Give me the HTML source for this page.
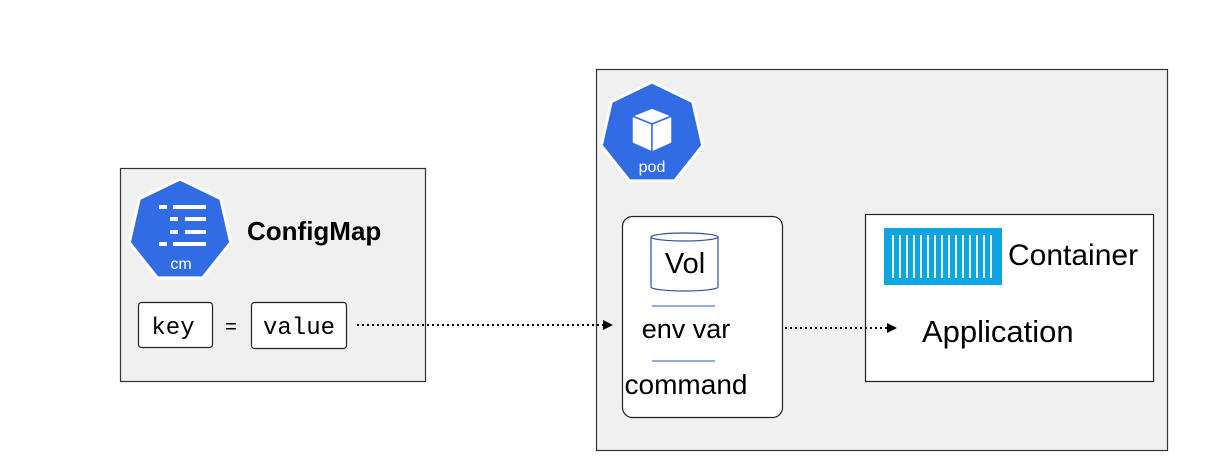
<!DOCTYPE html>
<html><head><meta charset="utf-8"><style>
html,body{margin:0;padding:0;background:#fff;}
svg{display:block;}
text{font-family:"Liberation Sans",sans-serif;}
</style></head><body>
<svg width="1229" height="475" viewBox="0 0 1229 475" xmlns="http://www.w3.org/2000/svg">
<!-- ConfigMap box -->
<rect x="120.5" y="168.5" width="305" height="213" fill="#f0f0f0" stroke="#333" stroke-width="1.2"/>
<polygon points="180,179 220.7,198.6 230.7,242.6 202.6,277.9 157.4,277.9 129.3,242.6 139.3,198.6" fill="#326ce5" stroke="#fff" stroke-width="3" stroke-linejoin="round"/>
<g fill="#fff">
<rect x="159" y="205" width="8" height="4"/><rect x="173" y="205" width="33" height="4"/>
<rect x="170" y="217" width="8" height="4"/><rect x="185" y="217" width="21" height="4"/>
<rect x="170" y="230" width="8" height="4"/><rect x="185" y="230" width="21" height="4"/>
<rect x="159" y="242" width="8" height="4"/><rect x="173" y="242" width="33" height="4"/>
</g>
<text x="181" y="269" font-size="16" fill="#fff" text-anchor="middle">cm</text>
<text x="247" y="240" font-size="26" font-weight="bold" fill="#000">ConfigMap</text>
<rect x="138.5" y="302.5" width="74" height="45" rx="3" fill="#fff" stroke="#222" stroke-width="1.2"/>
<text x="173" y="334" font-size="24" text-anchor="middle" style="font-family:'Liberation Mono',monospace">key</text>
<text x="231" y="333" font-size="20" text-anchor="middle">=</text>
<rect x="251.5" y="302.5" width="95" height="46" rx="3" fill="#fff" stroke="#222" stroke-width="1.2"/>
<text x="299" y="334" font-size="24" text-anchor="middle" style="font-family:'Liberation Mono',monospace">value</text>
<!-- Pod box -->
<rect x="596.5" y="69.5" width="571" height="381" fill="#f0f0f0" stroke="#333" stroke-width="1.2"/>
<polygon points="652,82 692.7,101.6 702.7,145.6 674.6,180.9 629.4,180.9 601.3,145.6 611.3,101.6" fill="#326ce5" stroke="#fff" stroke-width="3" stroke-linejoin="round"/>
<g fill="#fff" stroke="#326ce5" stroke-width="1.5" stroke-linejoin="round">
<polygon points="652,108 672,116 652,124 632,116"/>
<polygon points="632,116 652,124 652,152 632,143"/>
<polygon points="672,116 652,124 652,152 672,143"/>
</g>
<text x="652" y="172" font-size="16" fill="#fff" text-anchor="middle">pod</text>
<!-- arrow 1 -->
<line x1="357" y1="325" x2="604" y2="325" stroke="#000" stroke-width="2" stroke-dasharray="2,3"/>
<path d="M603,320 L613,325 L603,330 z" fill="#000"/>
<!-- inner box -->
<rect x="622.5" y="216.5" width="160" height="201" rx="10" fill="#fff" stroke="#222" stroke-width="1.2"/>
<path d="M651,237 L651,287 A33.5,4 0 0 0 718,287 L718,237" fill="#fff" stroke="#2f4f9f" stroke-width="1.2"/>
<ellipse cx="684.5" cy="237" rx="33.5" ry="4" fill="#fff" stroke="#2f4f9f" stroke-width="1.2"/>
<text x="685" y="273" font-size="29" text-anchor="middle">Vol</text>
<line x1="652" y1="306" x2="715" y2="306" stroke="#4a7bd0" stroke-width="1.2"/>
<line x1="652" y1="361" x2="715" y2="361" stroke="#4a7bd0" stroke-width="1.2"/>
<text x="686" y="338" font-size="27" text-anchor="middle">env var</text>
<text x="686" y="394" font-size="28" text-anchor="middle">command</text>
<!-- container box -->
<rect x="865.5" y="214.5" width="288" height="167" fill="#fff" stroke="#222" stroke-width="1.2"/>
<!-- arrow 2 -->
<line x1="785" y1="328" x2="888" y2="328" stroke="#000" stroke-width="2" stroke-dasharray="2,3"/>
<path d="M887,323 L897,328 L887,333 z" fill="#000"/>
<rect x="884" y="228" width="118" height="57" fill="#0ea5e0"/>
<g stroke="#fff" stroke-width="1.8">
<line x1="893" y1="235" x2="893" y2="278"/><line x1="900" y1="235" x2="900" y2="278"/><line x1="907" y1="235" x2="907" y2="278"/><line x1="914" y1="235" x2="914" y2="278"/><line x1="921" y1="235" x2="921" y2="278"/><line x1="928" y1="235" x2="928" y2="278"/><line x1="935" y1="235" x2="935" y2="278"/><line x1="942" y1="235" x2="942" y2="278"/><line x1="949" y1="235" x2="949" y2="278"/><line x1="956" y1="235" x2="956" y2="278"/><line x1="963" y1="235" x2="963" y2="278"/><line x1="970" y1="235" x2="970" y2="278"/><line x1="977" y1="235" x2="977" y2="278"/><line x1="984" y1="235" x2="984" y2="278"/><line x1="991" y1="235" x2="991" y2="278"/>
</g>
<text x="1008" y="265" font-size="30">Container</text>
<text x="922" y="342" font-size="31">Application</text>
</svg>
</body></html>
